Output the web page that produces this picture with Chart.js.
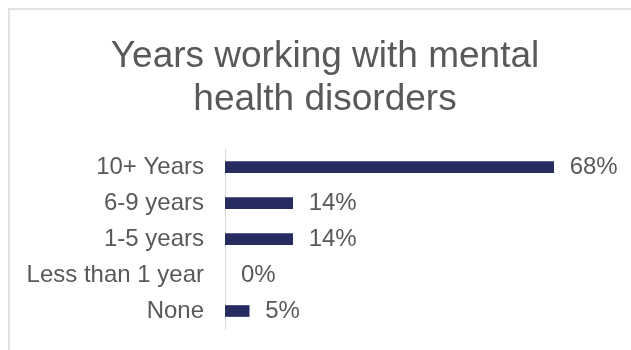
<!DOCTYPE html>
<html>
<head>
<meta charset="utf-8">
<title>Years working with mental health disorders</title>
<script src="https://cdn.jsdelivr.net/npm/chart.js@4/dist/chart.umd.min.js"></script>
<style>
    html, body { margin: 0; padding: 0; background: #fff; overflow: hidden; }
    #wrap { position: relative; width: 631px; height: 350px; }
    #frame {
        position: absolute; left: 8px; top: 8px; width: 700px; height: 400px;
        border: 2px solid #e2e2e2; box-sizing: border-box;
    }
    #yearsChart { position: absolute; left: 0; top: 0; }
</style>
</head>
<body>
<div id="wrap">
    <div id="frame"></div>
    <canvas id="yearsChart" width="631" height="350"></canvas>
</div>
<script>
// Dữ liệu khảo sát
var categories = ["10+ Years", "6-9 years", "1-5 years", "Less than 1 year", "None"];
var percentValues = [68, 14, 14, 0, 5];
var chartTitle = ["Years working with mental", "health disorders"];

var textColor = "#595959";
var barColor = "#262b60";
var fontFamily = '"Liberation Sans", Arial, sans-serif';

// Nhãn phần trăm ở cuối mỗi cột
var valueLabels = {
    id: 'valueLabels',
    afterDatasetsDraw: function(chart) {
        var ctx = chart.ctx;
        var meta = chart.getDatasetMeta(0);
        ctx.save();
        ctx.font = '24px ' + fontFamily;
        ctx.fillStyle = textColor;
        ctx.textAlign = 'left';
        ctx.textBaseline = 'middle';
        meta.data.forEach(function(bar, i) {
            ctx.fillText(percentValues[i] + '%', bar.x + 16, bar.y);
        });
        ctx.restore();
    }
};

var ctx = document.getElementById("yearsChart");
var myBarChart = new Chart(ctx.getContext('2d'), {
    type: 'bar',
    data: {
        labels: categories,
        datasets: [{
            label: "Percent",
            // cột 0% không vẽ gì
            backgroundColor: function(c) {
                return c.raw === 0 ? 'rgba(0,0,0,0)' : barColor;
            },
            borderWidth: 0,
            barThickness: 11,
            data: percentValues
        }]
    },
    options: {
        indexAxis: 'y',
        responsive: false,
        animation: false,
        layout: {
            padding: { left: 19, right: 0, top: 0, bottom: 21 }
        },
        scales: {
            x: {
                display: false,
                min: 0,
                max: 84
            },
            y: {
                grid: { display: false, drawTicks: false },
                border: { display: true, color: "#d9d9d9", width: 1 },
                ticks: {
                    color: textColor,
                    padding: 21,
                    font: { family: fontFamily, size: 24 }
                },
                afterFit: function(scale) {
                    scale.width = 206;
                    // bỏ khoảng đệm trên/dưới do nhãn trục
                    scale.paddingTop = 0;
                    scale.paddingBottom = 0;
                }
            }
        },
        plugins: {
            legend: { display: false },
            tooltip: { enabled: false },
            title: {
                display: true,
                text: chartTitle,
                color: textColor,
                font: { family: fontFamily, size: 37, weight: 'normal', lineHeight: 1.15 },
                padding: { top: 36, bottom: 28 }
            }
        }
    },
    plugins: [valueLabels]
});
</script>
</body>
</html>
